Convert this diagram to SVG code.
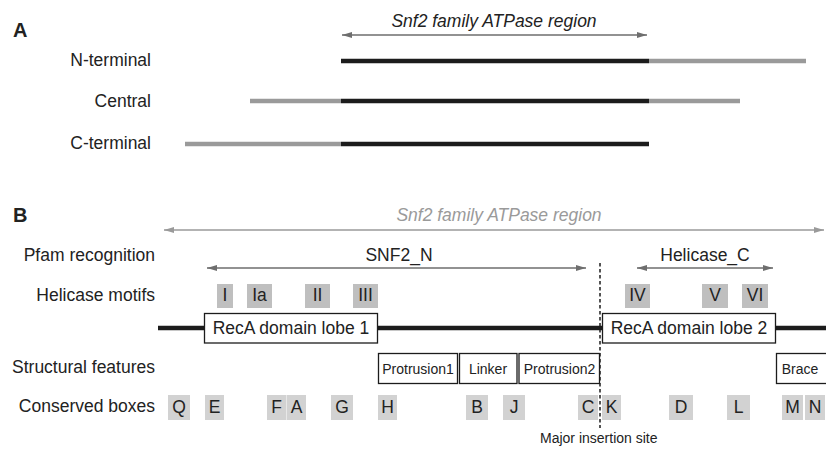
<svg xmlns="http://www.w3.org/2000/svg" width="826" height="449" viewBox="0 0 826 449">
<defs>
<marker id="ahd" viewBox="0 0 10 6" refX="10" refY="3" markerWidth="10" markerHeight="6" markerUnits="userSpaceOnUse" orient="auto-start-reverse">
<path d="M0,0 L10,3 L0,6 Z" fill="#6e6e6e"/>
</marker>
<marker id="ahl" viewBox="0 0 10 6" refX="10" refY="3" markerWidth="10" markerHeight="6" markerUnits="userSpaceOnUse" orient="auto-start-reverse">
<path d="M0,0 L10,3 L0,6 Z" fill="#9a9a9a"/>
</marker>
</defs>
<style>
text{font-family:"Liberation Sans",Arial,sans-serif;fill:#222}
.lab{font-size:17.5px;text-anchor:end}
.pan{font-size:20px;font-weight:bold}
.it{font-size:17.5px;font-style:italic;text-anchor:middle}
.mid{text-anchor:middle}
.big{font-size:17.5px}
.sm{font-size:14px}
.blk{stroke:#1c1c1c;stroke-width:4.5}
.gry{stroke:#9a9a9a;stroke-width:4.5}
.arr{stroke:#6e6e6e;stroke-width:1.5;fill:none}
.mot{fill:#bfbfbf}
.cb{fill:#d2d2d2}
.wb{fill:#fff;stroke:#1c1c1c;stroke-width:1.3}
</style>

<!-- Panel A -->
<text class="pan" x="13" y="37">A</text>
<g id="a-region-arrow">
<line class="arr" x1="342" y1="35" x2="647" y2="35" marker-start="url(#ahd)" marker-end="url(#ahd)"/>
<text class="it" x="494" y="27">Snf2 family ATPase region</text>
</g>
<g id="a-nterm">
<text class="lab" x="151" y="66">N-terminal</text>
<line class="blk" x1="341" y1="61" x2="649" y2="61"/>
<line class="gry" x1="649" y1="61" x2="806" y2="61"/>
</g>
<g id="a-central">
<text class="lab" x="151" y="107">Central</text>
<line class="gry" x1="250" y1="101" x2="341" y2="101"/>
<line class="blk" x1="341" y1="101" x2="649" y2="101"/>
<line class="gry" x1="649" y1="101" x2="740" y2="101"/>
</g>
<g id="a-cterm">
<text class="lab" x="151" y="149">C-terminal</text>
<line class="gry" x1="185" y1="144" x2="341" y2="144"/>
<line class="blk" x1="341" y1="144" x2="649" y2="144"/>
</g>

<!-- Panel B -->
<text class="pan" x="13" y="222">B</text>
<g id="b-region-arrow">
<line x1="164" y1="230" x2="824" y2="230" stroke="#9a9a9a" stroke-width="1.5" marker-start="url(#ahl)" marker-end="url(#ahl)"/>
<text class="it" x="499" y="221" style="fill:#9a9a9a">Snf2 family ATPase region</text>
</g>

<g id="row-labels">
<text class="lab" x="155" y="261">Pfam recognition</text>
<text class="lab" x="155" y="301">Helicase motifs</text>
<text class="lab" x="155" y="373">Structural features</text>
<text class="lab" x="155" y="412">Conserved boxes</text>
</g>

<g id="pfam">
<text class="big mid" x="399" y="261">SNF2_N</text>
<line class="arr" x1="207" y1="268" x2="586" y2="268" marker-start="url(#ahd)" marker-end="url(#ahd)"/>
<text class="big mid" x="705" y="261">Helicase_C</text>
<line class="arr" x1="637" y1="268" x2="773" y2="268" marker-start="url(#ahd)" marker-end="url(#ahd)"/>
</g>

<g id="helicase-motifs">
<rect class="mot" x="217" y="284" width="16" height="24"/>
<text class="big mid" x="225" y="301">I</text>
<rect class="mot" x="247" y="284" width="25" height="24"/>
<text class="big mid" x="259.5" y="301">Ia</text>
<rect class="mot" x="305" y="284" width="25" height="24"/>
<text class="big mid" x="317.5" y="301">II</text>
<rect class="mot" x="353" y="284" width="25" height="24"/>
<text class="big mid" x="365.5" y="301">III</text>
<rect class="mot" x="625" y="284" width="25" height="24"/>
<text class="big mid" x="637.5" y="301">IV</text>
<rect class="mot" x="702" y="284" width="26" height="24"/>
<text class="big mid" x="715" y="301">V</text>
<rect class="mot" x="742" y="284" width="26" height="24"/>
<text class="big mid" x="755" y="301">VI</text>
</g>

<g id="backbone">
<line class="blk" x1="158" y1="328" x2="826" y2="328"/>
</g>
<g id="reca1">
<rect class="wb" x="204.5" y="313.5" width="173" height="29.5"/>
<text class="big mid" x="291" y="334">RecA domain lobe 1</text>
</g>
<g id="reca2">
<rect class="wb" x="602.5" y="313.5" width="173" height="29.5"/>
<text class="big mid" x="689" y="334">RecA domain lobe 2</text>
</g>

<g id="structural">
<rect class="wb" x="378.5" y="353.5" width="79" height="30"/>
<text class="sm mid" x="418" y="373.5">Protrusion1</text>
<rect class="wb" x="459.5" y="353.5" width="57.5" height="30"/>
<text class="sm mid" x="488" y="373.5">Linker</text>
<rect class="wb" x="519" y="353.5" width="80.5" height="30"/>
<text class="sm mid" x="559.5" y="373.5">Protrusion2</text>
<rect class="wb" x="776.5" y="353.5" width="55" height="30"/>
<text class="sm mid" x="800" y="373.5">Brace</text>
</g>

<g id="conserved-boxes">
<rect class="cb" x="168" y="395" width="22" height="25"/><text class="big mid" x="179" y="413">Q</text>
<rect class="cb" x="205" y="395" width="19" height="25"/><text class="big mid" x="214.5" y="413">E</text>
<rect class="cb" x="267" y="395" width="19.5" height="25"/><text class="big mid" x="276.5" y="413">F</text>
<rect class="cb" x="287" y="395" width="19" height="25"/><text class="big mid" x="296.5" y="413">A</text>
<rect class="cb" x="331" y="395" width="22" height="25"/><text class="big mid" x="342" y="413">G</text>
<rect class="cb" x="378" y="395" width="19" height="25"/><text class="big mid" x="387.5" y="413">H</text>
<rect class="cb" x="466" y="395" width="22" height="25"/><text class="big mid" x="477" y="413">B</text>
<rect class="cb" x="503" y="395" width="22" height="25"/><text class="big mid" x="514" y="413">J</text>
<rect class="cb" x="578" y="395" width="20" height="25"/><text class="big mid" x="588" y="413">C</text>
<rect class="cb" x="602" y="395" width="19" height="25"/><text class="big mid" x="611.5" y="413">K</text>
<rect class="cb" x="669" y="395" width="24" height="25"/><text class="big mid" x="681" y="413">D</text>
<rect class="cb" x="727" y="395" width="23" height="25"/><text class="big mid" x="738.5" y="413">L</text>
<rect class="cb" x="782" y="395" width="21" height="25"/><text class="big mid" x="792.5" y="413">M</text>
<rect class="cb" x="805" y="395" width="20" height="25"/><text class="big mid" x="815" y="413">N</text>
</g>

<g id="insertion-site">
<line x1="600" y1="263" x2="600" y2="428" stroke="#1c1c1c" stroke-width="1.5" stroke-dasharray="3.5,2.5"/>
<text class="sm" x="540" y="443">Major insertion site</text>
</g>
</svg>
